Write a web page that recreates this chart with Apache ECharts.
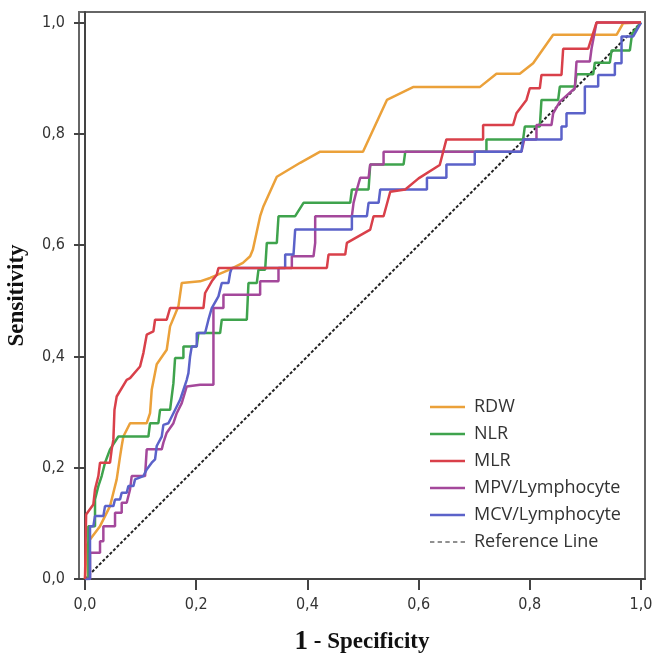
<!DOCTYPE html>
<html>
<head>
<meta charset="utf-8">
<script src="https://cdn.jsdelivr.net/npm/echarts@6/dist/echarts.min.js"></script>
<style>html,body{margin:0;padding:0;background:#fff}#c{width:654px;height:654px}</style>
</head>
<body>
<div id="c"></div>
<script>
// ---- data: [1 - specificity, sensitivity] points of each ROC curve ----
const seriesNames = ['RDW', 'NLR', 'MLR', 'MPV/Lymphocyte', 'MCV/Lymphocyte', 'Reference Line'];
const tickValues = [0, 0.2, 0.4, 0.6, 0.8, 1.0];

const rdw = [[0,0],[0.003,0],[0.003,0.06],[0.009,0.071],[0.027,0.095],[0.045,0.131],[0.051,0.155],[0.057,0.179],[0.063,0.22],[0.066,0.239],[0.069,0.256],[0.081,0.28],[0.111,0.28],[0.117,0.298],[0.12,0.34],[0.129,0.386],[0.147,0.412],[0.153,0.454],[0.168,0.49],[0.174,0.532],[0.175,0.535],[0.207,0.535],[0.225,0.541],[0.26,0.556],[0.284,0.568],[0.297,0.58],[0.302,0.592],[0.315,0.652],[0.321,0.67],[0.345,0.723],[0.387,0.748],[0.423,0.768],[0.5,0.768],[0.543,0.861],[0.59,0.884],[0.71,0.884],[0.74,0.908],[0.782,0.908],[0.806,0.927],[0.842,0.978],[0.956,0.978],[0.968,0.999],[1,1]];

const nlr = [[0,0],[0.006,0],[0.006,0.095],[0.018,0.095],[0.018,0.143],[0.024,0.167],[0.03,0.185],[0.036,0.209],[0.045,0.233],[0.06,0.256],[0.114,0.256],[0.117,0.28],[0.132,0.28],[0.135,0.304],[0.153,0.304],[0.156,0.328],[0.159,0.352],[0.162,0.397],[0.177,0.397],[0.177,0.418],[0.201,0.418],[0.204,0.442],[0.243,0.442],[0.246,0.466],[0.291,0.466],[0.294,0.532],[0.309,0.532],[0.312,0.556],[0.324,0.556],[0.327,0.604],[0.345,0.604],[0.348,0.652],[0.378,0.652],[0.393,0.676],[0.477,0.676],[0.48,0.7],[0.51,0.7],[0.513,0.745],[0.573,0.745],[0.576,0.768],[0.722,0.768],[0.722,0.79],[0.788,0.79],[0.791,0.813],[0.818,0.813],[0.821,0.861],[0.851,0.861],[0.854,0.885],[0.881,0.885],[0.884,0.907],[0.914,0.907],[0.917,0.928],[0.944,0.928],[0.947,0.95],[0.98,0.95],[0.984,0.98],[1,1]];

const mlr = [[0,0],[0.002,0],[0.002,0.116],[0.015,0.134],[0.018,0.161],[0.024,0.185],[0.027,0.209],[0.045,0.209],[0.048,0.233],[0.051,0.25],[0.053,0.304],[0.057,0.328],[0.075,0.358],[0.081,0.361],[0.099,0.382],[0.105,0.406],[0.111,0.439],[0.123,0.445],[0.126,0.466],[0.147,0.466],[0.153,0.487],[0.213,0.487],[0.216,0.514],[0.228,0.535],[0.237,0.547],[0.24,0.559],[0.435,0.559],[0.438,0.583],[0.468,0.583],[0.471,0.604],[0.513,0.628],[0.519,0.652],[0.537,0.652],[0.549,0.696],[0.576,0.7],[0.6,0.72],[0.638,0.744],[0.65,0.79],[0.716,0.79],[0.716,0.816],[0.77,0.816],[0.776,0.837],[0.794,0.861],[0.8,0.882],[0.818,0.882],[0.821,0.906],[0.857,0.906],[0.86,0.953],[0.905,0.953],[0.92,1],[1,1]];

const mpv = [[0,0],[0.009,0],[0.009,0.047],[0.027,0.047],[0.027,0.068],[0.033,0.068],[0.033,0.095],[0.054,0.095],[0.054,0.119],[0.066,0.119],[0.066,0.137],[0.075,0.137],[0.081,0.161],[0.084,0.185],[0.108,0.185],[0.111,0.233],[0.138,0.233],[0.141,0.245],[0.147,0.263],[0.159,0.28],[0.165,0.298],[0.174,0.316],[0.183,0.346],[0.207,0.349],[0.231,0.349],[0.231,0.487],[0.249,0.487],[0.249,0.511],[0.315,0.511],[0.315,0.535],[0.348,0.535],[0.348,0.559],[0.372,0.559],[0.372,0.58],[0.411,0.58],[0.414,0.604],[0.414,0.652],[0.48,0.652],[0.483,0.676],[0.489,0.7],[0.495,0.721],[0.51,0.721],[0.513,0.745],[0.537,0.745],[0.537,0.768],[0.785,0.768],[0.79,0.79],[0.812,0.79],[0.812,0.816],[0.839,0.816],[0.842,0.837],[0.854,0.858],[0.881,0.882],[0.884,0.93],[0.908,0.93],[0.911,0.953],[0.92,1],[1,1]];

const mcv = [[0,0],[0.009,0],[0.009,0.095],[0.015,0.095],[0.018,0.113],[0.033,0.113],[0.036,0.131],[0.051,0.131],[0.054,0.143],[0.063,0.143],[0.066,0.155],[0.075,0.155],[0.078,0.167],[0.087,0.167],[0.09,0.179],[0.105,0.185],[0.111,0.197],[0.12,0.209],[0.126,0.215],[0.129,0.239],[0.138,0.256],[0.141,0.277],[0.15,0.28],[0.159,0.298],[0.165,0.31],[0.171,0.322],[0.177,0.34],[0.183,0.358],[0.186,0.37],[0.189,0.4],[0.192,0.418],[0.201,0.418],[0.201,0.442],[0.216,0.442],[0.222,0.466],[0.228,0.487],[0.24,0.508],[0.246,0.532],[0.258,0.532],[0.261,0.55],[0.264,0.559],[0.36,0.559],[0.36,0.583],[0.375,0.583],[0.378,0.628],[0.48,0.628],[0.48,0.652],[0.507,0.652],[0.51,0.676],[0.528,0.676],[0.531,0.7],[0.615,0.7],[0.615,0.721],[0.65,0.721],[0.65,0.745],[0.701,0.745],[0.701,0.768],[0.785,0.768],[0.788,0.79],[0.857,0.79],[0.857,0.813],[0.866,0.813],[0.866,0.837],[0.899,0.837],[0.899,0.885],[0.923,0.885],[0.923,0.906],[0.953,0.906],[0.953,0.927],[0.965,0.927],[0.965,0.975],[0.986,0.975],[1,1]];

const referenceLine = [[0,0],[1,1]];

const curves = [rdw, nlr, mlr, mpv, mcv, referenceLine];
const colors = ['#EBA13A', '#3FA34D', '#D9404A', '#A4489B', '#5B62C9', '#222222'];

// ---- chart ----
const chart = echarts.init(document.getElementById('c'), null, {renderer: 'canvas'});
const fmt = v => v.toFixed(1).replace('.', ',');
const tickFont = "'Liberation Sans Narrow','DejaVu Sans Condensed','Liberation Sans',sans-serif";
const serif = "'Liberation Serif','DejaVu Serif',serif";
const dashIcon = 'path://M0,0h4v1h-4z M7,0h4v1h-4z M14,0h4v1h-4z M21,0h4v1h-4z M28,0h4v1h-4z';

const series = curves.map((d, i) => ({
  name: seriesNames[i],
  type: 'line',
  data: d,
  symbol: 'none',
  showSymbol: false,
  silent: true,
  animation: false,
  z: i === 5 ? 1 : 2 + (i === 2 ? 5 : i),
  lineStyle: {
    color: colors[i],
    width: i === 5 ? 2 : 2.5,
    type: i === 5 ? [3, 2] : 'solid'
  },
  itemStyle: {color: colors[i]}
}));

chart.setOption({
  animation: false,
  backgroundColor: '#fff',
  grid: {
    left: 79, right: 9, top: 12, bottom: 75,
    outerBoundsMode: 'none',
    containLabel: false,
    show: true, borderColor: '#666', borderWidth: 2
  },
  legend: {
    data: seriesNames.map((n, i) => ({name: n, icon: i === 5 ? dashIcon : 'rect'})),
    orient: 'vertical',
    left: 425, top: 393,
    itemWidth: 35, itemHeight: 2.5, itemGap: 9.0,
    textStyle: {fontSize: 18, color: '#333', fontFamily: "'Open Sans','Liberation Sans',sans-serif", padding: [0, 0, 0, 4]}
  },
  xAxis: {
    type: 'value',
    min: -0.0108, max: 1.0072,
    name: '{one|1} - Specificity',
    nameLocation: 'middle',
    nameGap: 50,
    nameTextStyle: {
      fontFamily: serif, fontWeight: 'bold', fontSize: 23, color: '#111',
      rich: {one: {fontFamily: serif, fontWeight: 'bold', fontSize: 27, color: '#111'}}
    },
    splitLine: {show: false},
    axisLine: {lineStyle: {color: '#444', width: 2}},
    axisTick: {show: true, length: 11, lineStyle: {color: '#444', width: 2}, customValues: tickValues},
    axisLabel: {customValues: tickValues, formatter: fmt, fontSize: 16, color: '#333', fontFamily: tickFont, margin: 18}
  },
  yAxis: {
    type: 'value',
    min: 0, max: 1.019,
    name: 'Sensitivity',
    nameLocation: 'middle',
    nameGap: 50,
    nameTextStyle: {fontFamily: serif, fontWeight: 'bold', fontSize: 23, color: '#111'},
    splitLine: {show: false},
    axisLine: {lineStyle: {color: '#444', width: 2}},
    axisTick: {show: true, length: 11, lineStyle: {color: '#444', width: 2}, customValues: tickValues},
    axisLabel: {customValues: tickValues, formatter: fmt, fontSize: 16, color: '#333', fontFamily: tickFont, margin: 14, padding: [4, 0, 0, 0]}
  },
  series: series
});
</script>
</body>
</html>
